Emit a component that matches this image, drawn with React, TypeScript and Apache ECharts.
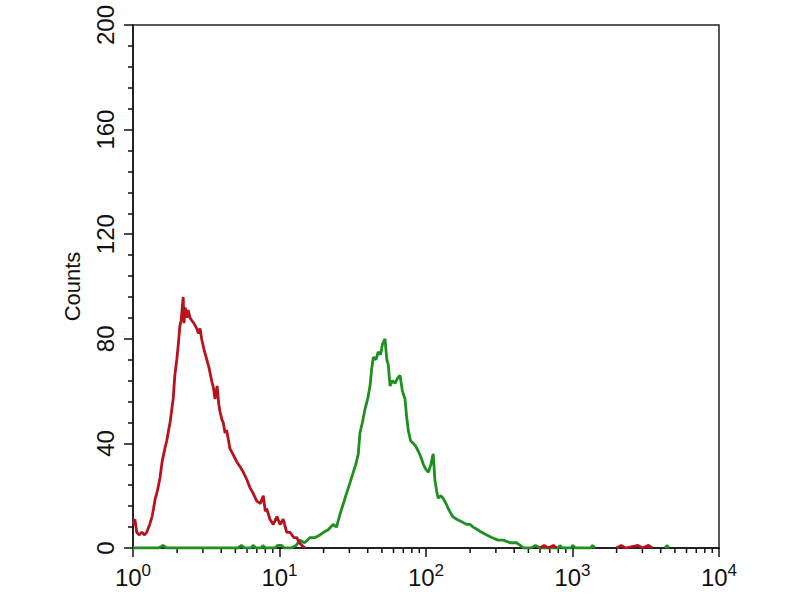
import React, { useEffect, useRef } from 'react';
import * as echarts from 'echarts';

const yTickValues = [0, 40, 80, 120, 160, 200];
const xMinorTicks = [
  2, 3, 4, 5, 6, 7, 8, 9,
  20, 30, 40, 50, 60, 70, 80, 90,
  200, 300, 400, 500, 600, 700, 800, 900,
  2000, 3000, 4000, 5000, 6000, 7000, 8000, 9000,
];

// null marks a gap in the histogram trace
const redSeries: [number, number | null][] = [
  [1.0, 9], [1.03, 11], [1.06, 6], [1.1, 5], [1.15, 6], [1.2, 5], [1.24, 6], [1.3, 9],
  [1.35, 12], [1.38, 15], [1.42, 19], [1.47, 22], [1.53, 27], [1.58, 33], [1.65, 38],
  [1.7, 41], [1.75, 45], [1.79, 48], [1.84, 53], [1.88, 57], [1.93, 66], [1.99, 72],
  [2.04, 78], [2.09, 85], [2.13, 87], [2.17, 92], [2.2, 96], [2.23, 86], [2.27, 92],
  [2.33, 88], [2.38, 91], [2.45, 88], [2.52, 87], [2.6, 86], [2.72, 84], [2.8, 82],
  [2.87, 84], [2.94, 80], [3.05, 76], [3.19, 72], [3.3, 69], [3.44, 64], [3.55, 61],
  [3.63, 57], [3.75, 62], [3.85, 55], [3.93, 52], [4.05, 49], [4.13, 48], [4.25, 44],
  [4.36, 45], [4.59, 38], [4.8, 36], [5.1, 33], [5.4, 31], [5.66, 29], [6.0, 26],
  [6.29, 23], [6.6, 21], [6.98, 18], [7.4, 17], [7.75, 20], [8.0, 14], [8.18, 15],
  [8.6, 11], [9.07, 9], [9.6, 12], [10.1, 9], [10.6, 11], [11.2, 6], [11.8, 6],
  [12.5, 4], [13.1, 4], [13.7, 2], [14.2, 1], [15, 0], [16, null],
  [600, 0], [640, 1], [680, 0], [740, 1], [780, 0], [800, null],
  [2000, 0], [2150, 1], [2300, 0], [2800, 1], [3000, 0], [3300, 1], [3500, 0],
];

const greenSeries: [number, number | null][] = [
  [1.0, 0], [1.5, 0], [1.6, 1], [1.7, 0], [5.2, 0], [5.5, 1], [5.8, 0], [6.4, 0],
  [6.6, 1], [6.9, 0], [7.5, 0], [7.7, 1], [8.0, 0], [9.3, 0], [9.7, 1], [10.3, 1],
  [10.8, 0], [12, 0], [13, 1], [13.8, 3], [14.8, 2], [16.2, 4], [17.5, 4], [18.9, 5],
  [20, 6], [21.5, 7], [23.2, 9], [24.5, 8], [25.9, 13], [27.3, 17], [28.7, 21],
  [30.3, 25], [31.9, 29], [33.2, 32], [34.5, 36], [35.4, 44], [36.8, 48], [38.3, 53],
  [40, 57], [41.5, 62], [42.5, 68], [43.7, 73], [45.5, 72], [47.2, 75], [49, 74],
  [50.5, 78], [52.5, 80], [54, 72], [55.3, 70], [56.8, 62], [59, 64], [61.4, 63],
  [64, 65], [66.5, 66], [69, 60], [71.9, 57], [73.8, 50], [75.7, 45], [78.5, 41],
  [81.9, 40], [85, 39], [88.6, 37], [92, 35], [95.9, 32], [100, 30], [104, 29],
  [108, 32], [112, 36], [115, 26], [118, 22], [121, 19], [126, 20], [131, 19],
  [137, 17], [142, 15], [152, 12], [162, 11], [175, 10], [190, 9], [200, 9], [210, 8],
  [225, 7], [240, 6], [260, 5], [281, 4], [310, 3], [337, 3], [375, 2], [416, 2],
  [440, 1], [462, 0], [520, 0], [560, 1], [600, 0], [800, 0], [820, 1], [850, 0],
  [980, 0], [1000, 1], [1050, 0], [1330, 0], [1370, 1], [1420, 0], [1500, null],
  [4300, 0], [4400, 1], [4550, 0],
];

const RED = '#b8121c';
const GREEN = '#1f8f1f';
const AXIS = '#111';
const FONT = 'Liberation Sans, Arial, sans-serif';

export default function App() {
  const ref = useRef<HTMLDivElement>(null);
  useEffect(() => {
    const chart = echarts.init(ref.current!, null, { renderer: 'svg' });
    chart.setOption({
      animation: false,
      backgroundColor: '#fff',
      grid: {
        left: 133, right: 81, top: 25, bottom: 52,
        show: true, borderColor: '#222', borderWidth: 1.5, backgroundColor: 'transparent',
      },
      xAxis: {
        type: 'log', logBase: 10, min: 1, max: 10000, splitNumber: 4,
        axisLine: { show: true, lineStyle: { color: AXIS, width: 1.5 } },
        axisTick: { show: true, length: 9, inside: false, lineStyle: { color: AXIS, width: 1.5 } },
        splitLine: { show: false },
        axisLabel: {
          margin: 14,
          color: AXIS,
          fontFamily: FONT,
          formatter: (v: number) => `{b|10}{s|${Math.round(Math.log10(v))}}`,
          rich: {
            b: { fontSize: 24, fontFamily: FONT, color: AXIS },
            s: { fontSize: 17, fontFamily: FONT, color: AXIS, padding: [0, 0, 14, 0] },
          },
        },
      },
      yAxis: {
        type: 'value', min: 0, max: 200, interval: 40,
        name: 'Counts', nameLocation: 'middle', nameGap: 50, nameRotate: 90,
        nameTextStyle: { fontSize: 22, color: AXIS, fontFamily: FONT },
        axisLine: { show: true, lineStyle: { color: AXIS, width: 1.5 } },
        axisTick: { show: true, length: 9, inside: false, lineStyle: { color: AXIS, width: 1.5 } },
        minorTick: { show: true, splitNumber: 5, length: 5, lineStyle: { color: AXIS, width: 1.5 } },
        splitLine: { show: false },
        minorSplitLine: { show: false },
        axisLabel: {
          rotate: 90, margin: 16, fontSize: 24, color: AXIS,
          fontFamily: FONT,
          customValues: yTickValues,
        },
      },
      series: [
        {
          type: 'custom',
          silent: true,
          clip: false,
          data: xMinorTicks.map((v) => [v, 0]),
          renderItem: (params: any, api: any) => {
            const p = api.coord([api.value(0), 0]);
            return {
              type: 'line',
              shape: { x1: p[0], y1: p[1], x2: p[0], y2: p[1] + 5 },
              style: { stroke: AXIS, lineWidth: 1.5 },
            };
          },
        },
        {
          type: 'line', data: greenSeries, symbol: 'none', showSymbol: false, connectNulls: false,
          lineStyle: { color: GREEN, width: 2.8 }, itemStyle: { color: GREEN }, z: 3,
        },
        {
          type: 'line', data: redSeries, symbol: 'none', showSymbol: false, connectNulls: false,
          lineStyle: { color: RED, width: 2.8 }, itemStyle: { color: RED }, z: 4,
        },
      ],
    });
    return () => chart.dispose();
  }, []);
  return (
    <div
      ref={ref}
      style={{ position: 'fixed', left: 0, top: 0, width: 800, height: 600, background: '#fff' }}
    />
  );
}
